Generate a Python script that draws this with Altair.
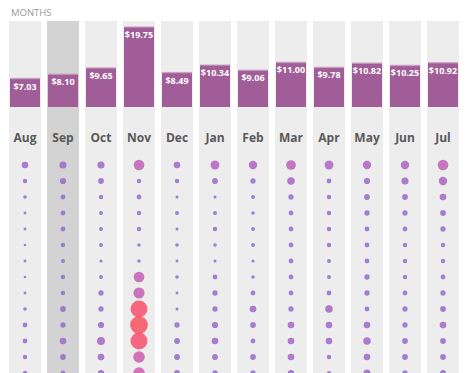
import altair as alt
import pandas as pd

months = ["Aug", "Sep", "Oct", "Nov", "Dec", "Jan", "Feb", "Mar", "Apr", "May", "Jun", "Jul"]
prices = [7.03, 8.10, 9.65, 19.75, 8.49, 10.34, 9.06, 11.00, 9.78, 10.82, 10.25, 10.92]
highlight = "Sep"

# dot magnitudes per month, rows top to bottom
dots = {
    "Aug": [7.5, 5, 4, 3.3, 3.3, 3, 3.3, 3, 3.3, 4, 5.5, 5.5, 5, 5],
    "Sep": [8, 7, 5.5, 5.5, 5.5, 5, 4.5, 5, 5, 6.5, 6, 7.5, 6.5, 5.5],
    "Oct": [8, 6.5, 5, 4.5, 4.5, 4.5, 3.5, 4.5, 6, 6, 7, 9, 7.5, 7],
    "Nov": [12, 5, 5.5, 5, 5, 4, 4, 12, 12.5, 19, 20, 19, 13, 13],
    "Dec": [7.5, 5, 3.5, 4.5, 3.5, 4, 3.3, 4, 3.3, 3.5, 6, 6.5, 6.5, 6.5],
    "Jan": [10, 6.5, 3.5, 4.5, 5, 4, 3.5, 5.5, 6, 6, 7, 7.5, 6.5, 6],
    "Feb": [9.5, 6, 4.5, 4, 4.5, 4.5, 3.5, 4, 5.5, 7.5, 6.5, 5.5, 6.5, 6],
    "Mar": [11, 8.5, 6, 5.5, 5.5, 5.5, 5.5, 5.5, 5.5, 6, 7.5, 7.5, 7.5, 7],
    "Apr": [10, 5.5, 5, 5, 5, 5, 4.5, 4.5, 5.5, 8.5, 7.5, 7.5, 5, 4.5],
    "May": [9.5, 7, 6.5, 6, 5.5, 5.5, 5.5, 6, 6, 5.5, 7.5, 8.5, 7.5, 8],
    "Jun": [9.5, 8, 6.5, 6, 5.5, 5, 5, 5, 5.5, 6, 6, 6.5, 6.5, 6],
    "Jul": [12, 9.5, 7.5, 6.5, 6, 5, 5, 5.5, 6, 6.5, 7.5, 6.5, 6.5, 6.5],
}

H = 365
bar_df = pd.DataFrame({"month": months, "price": prices})
dot_df = pd.DataFrame(
    [{"month": m, "row": i, "v": v} for m in months for i, v in enumerate(dots[m])]
)
title_df = pd.DataFrame({"t": ["MONTHS"]})

x = alt.X("month:N", sort=months, axis=None,
          scale=alt.Scale(paddingInner=6 / 38, paddingOuter=0))
yprice = alt.Y("price:Q", axis=None,
               scale=alt.Scale(domain=[0, 19.75], range=[86, 6], nice=False, zero=True))

bg = alt.Chart(bar_df).mark_rect().encode(
    x=x,
    y=alt.value(0),
    y2=alt.value(H),
    color=alt.condition(alt.datum.month == highlight, alt.value("#d3d3d3"),
                        alt.value("#ededed")),
)

bars = alt.Chart(bar_df).mark_bar(size=30, color="#a15d97").encode(x=x, y=yprice)
tops = alt.Chart(bar_df).mark_tick(orient="horizontal", size=30, thickness=1.5,
                                   color="#c99cc3").encode(x=x, y=yprice)
vals = alt.Chart(bar_df).mark_text(dy=8, baseline="middle", color="white",
                                   font="Open Sans", fontWeight="bold", fontSize=9).encode(
    x=x, y=yprice, text=alt.Text("price:Q", format="$.2f"))

mlabels = alt.Chart(bar_df).mark_text(baseline="middle", color="#595959",
                                      font="Open Sans", fontWeight="bold", fontSize=12).encode(
    x=x, y=alt.value(117), text="month:N")

circles = alt.Chart(dot_df).mark_circle(opacity=0.85).encode(
    x=x,
    y=alt.Y("row:Q", axis=None, scale=alt.Scale(domain=[0, 13], range=[144, 352], nice=False, zero=False)),
    size=alt.Size("v:Q", legend=None,
                  scale=alt.Scale(type="pow", exponent=2, domain=[0, 20], range=[0, 314])),
    color=alt.Color("v:Q", legend=None,
                    scale=alt.Scale(domain=[3, 8, 12, 20],
                                    range=["#8670d2", "#9f66c6", "#c060b4", "#f8505f"])),
)

title = alt.Chart(title_df).mark_text(align="left", baseline="alphabetic", color="#9a9a9a",
                                      font="Open Sans", fontSize=9.5).encode(
    x=alt.value(2), y=alt.value(-5), text="t:N")

chart = alt.layer(bg, bars, tops, vals, mlabels, circles, title).resolve_scale(
    y="independent"
).properties(
    width=450, height=H,
    autosize=alt.AutoSizeParams(type="none"),
    padding={"left": 1, "top": 13, "right": 0, "bottom": 0},
).configure_view(stroke=None)

chart.save("out.html", embed_options={"renderer": "svg", "actions": False})
